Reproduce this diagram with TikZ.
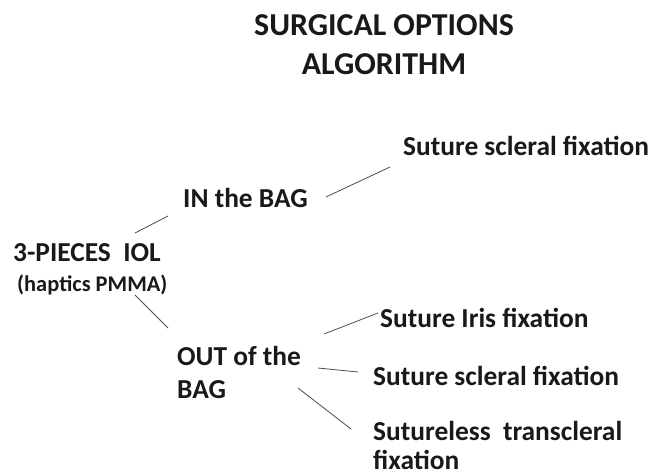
\documentclass[tikz,border=0pt]{standalone}
\usepackage{fontspec}
\setmainfont{Carlito}

\begin{document}
\begin{tikzpicture}[x=1bp, y=-1bp,
labelnode/.style={inner sep=0pt, anchor=base west, align=left, text=black!90, font=\bfseries\fontsize{27.5}{33}\selectfont},
titlenode/.style={inner sep=0pt, anchor=base, align=center, text=black!90, font=\bfseries\fontsize{32}{40}\selectfont},
subnode/.style={inner sep=0pt, anchor=base west, text=black!90, font=\bfseries\fontsize{22.5}{26}\selectfont},
branch/.style={draw=black!70, line width=0.8pt},
]
\useasboundingbox[fill=white] (0,0) rectangle (654,476);

%Nodes (multi-line nodes sit on their last baseline)
\node[titlenode]  (title)  at (384,75)  {SURGICAL OPTIONS\\ALGORITHM};
\node[labelnode]  (iol)    at (13,262)  {3-PIECES\ \ IOL};
\node[subnode]    (hapt)   at (17,292)  {(haptics PMMA)};
\node[labelnode]  (inbag)  at (183,208) {IN the BAG};
\node[labelnode]  (outbag) at (177,398) {OUT of the\\BAG};
\node[labelnode]  (scl1)   at (403,156) {Suture scleral fixation};
\node[labelnode]  (iris)   at (380,327) {Suture Iris fixation};
\node[labelnode]  (scl2)   at (373,385) {Suture scleral fixation};
\node[labelnode, font=\bfseries\fontsize{27.5}{29}\selectfont]
                  (sless)  at (373,469) {Sutureless\ \ transcleral\\fixation};

%Lines
\draw[branch] ([shift={(122,-29)}]iol.base west) -- ([shift={(-15,8)}]inbag.base west);
\draw[branch] ([shift={(122,33)}]iol.base west) -- ([shift={(-9,-70)}]outbag.base west);

\draw[branch] ([shift={(-77,41)}]scl1.base west) -- ([shift={(-13,11)}]scl1.base west);

\draw[branch] ([shift={(-56,7)}]iris.base west) -- ([shift={(-2,-14)}]iris.base west);
\draw[branch] ([shift={(-55,-17)}]scl2.base west) -- ([shift={(-15,-13)}]scl2.base west);
\draw[branch] ([shift={(-75,-81)}]sless.base west) -- ([shift={(-22,-40)}]sless.base west);

\end{tikzpicture}
\end{document}
